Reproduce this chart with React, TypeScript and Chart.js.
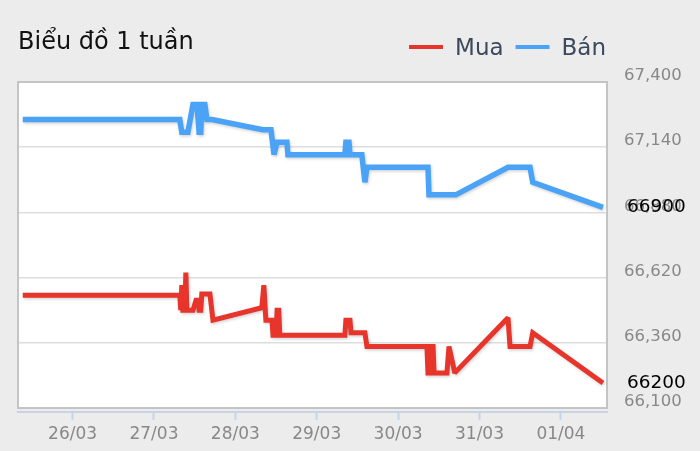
import React, { useEffect, useRef } from "react";
import { Chart, registerables } from "chart.js";

Chart.register(...registerables);

const titleText = "Biểu đồ 1 tuần";
const seriesNames = ["Mua", "Bán"];
const seriesColors = ["#e8352b", "#4ba3f7"];

// time axis: hours counted from 25/03 00:00
const buyHours = [9.3, 55.6, 55.9, 56.2, 56.5, 57.1, 57.4, 57.7, 59.5, 60.4, 61.0, 61.3, 61.8, 62.1, 64.5, 65.4, 79.8, 80.4, 81.0, 82.8, 83.1, 84.0, 84.3, 84.8, 85.1, 104.3, 104.6, 105.8, 106.1, 110.2, 110.8, 128.5, 128.8, 129.4, 129.7, 130.3, 130.6, 134.4, 135.0, 136.7, 152.4, 153.0, 158.9, 159.7, 180.4];
const buyValues = [66550, 66550, 66490, 66590, 66490, 66490, 66640, 66490, 66490, 66530, 66530, 66490, 66490, 66555, 66555, 66450, 66500, 66590, 66450, 66450, 66390, 66390, 66490, 66490, 66390, 66390, 66450, 66450, 66400, 66400, 66345, 66345, 66240, 66240, 66345, 66345, 66240, 66240, 66345, 66240, 66460, 66345, 66345, 66400, 66200];

const sellHours = [9.3, 55.6, 56.2, 58.0, 59.5, 60.7, 61.3, 61.8, 62.1, 63.0, 63.6, 65.1, 80.1, 82.5, 83.4, 84.3, 87.2, 87.5, 104.3, 104.6, 105.5, 105.8, 109.3, 110.2, 110.8, 128.8, 129.1, 137.0, 152.4, 158.9, 159.7, 180.4];
const sellValues = [67250, 67250, 67200, 67200, 67310, 67310, 67200, 67200, 67310, 67310, 67250, 67250, 67210, 67210, 67110, 67160, 67160, 67110, 67110, 67160, 67160, 67110, 67110, 67000, 67060, 67060, 66950, 66950, 67060, 67060, 67000, 66900];

const dayTickHours = [24, 48, 72, 96, 120, 144, 168];
const dayTickLabels = ["26/03", "27/03", "28/03", "29/03", "30/03", "31/03", "01/04"];
const priceTicks = [66100, 66360, 66620, 66880, 67140, 67400];

const xMin = 7.9;
const xMax = 181.6;
const yMin = 66084;
const yMax = 67400;

const FONT = "'DejaVu Sans', 'Lucida Grande', sans-serif";

const decorPlugin = {
  id: "decor",
  beforeDraw(chart: any) {
    const { ctx, chartArea: a, scales } = chart;
    const bottom = scales.y.getPixelForValue(priceTicks[0]);
    ctx.save();
    ctx.fillStyle = "#ffffff";
    ctx.fillRect(a.left, a.top, a.right - a.left, bottom - a.top);
    ctx.restore();
  },
  beforeDatasetsDraw(chart: any) {
    const { ctx, chartArea: a, scales } = chart;
    const bottom = scales.y.getPixelForValue(priceTicks[0]);
    ctx.save();
    ctx.strokeStyle = "#c4c4c4";
    ctx.lineWidth = 2;
    ctx.strokeRect(a.left, a.top, a.right - a.left, bottom - a.top);
    ctx.restore();
  },
  beforeDatasetDraw(chart: any) {
    const ctx = chart.ctx;
    ctx.save();
    ctx.miterLimit = 2;
    ctx.shadowColor = "rgba(0,0,0,0.18)";
    ctx.shadowBlur = 3;
    ctx.shadowOffsetX = 1;
    ctx.shadowOffsetY = 1.5;
  },
  afterDatasetDraw(chart: any) {
    chart.ctx.restore();
  },
  afterDatasetsDraw(chart: any) {
    const { ctx, chartArea: a } = chart;
    ctx.save();
    ctx.font = `18.5px ${FONT}`;
    ctx.fillStyle = "#000000";
    ctx.textAlign = "left";
    ctx.textBaseline = "middle";
    chart.data.datasets.forEach((ds: any, i: number) => {
      const meta = chart.getDatasetMeta(i);
      const last = meta.data[meta.data.length - 1];
      const v = ds.data[ds.data.length - 1].y;
      ctx.fillText(String(v), a.right + 20, last.y);
    });
    ctx.restore();
  },
  afterDraw(chart: any) {
    const { ctx } = chart;
    ctx.save();
    // title
    ctx.font = `24px ${FONT}`;
    ctx.fillStyle = "#111111";
    ctx.textAlign = "left";
    ctx.textBaseline = "alphabetic";
    ctx.fillText(titleText, 18, 49);
    // legend
    ctx.font = `23px ${FONT}`;
    const lineLen = 34;
    const gapLine = 12;
    const gapItem = 12;
    const items = chart.data.datasets.map((ds: any) => ({
      label: ds.label,
      color: ds.borderColor,
      w: ctx.measureText(ds.label).width,
    }));
    let total = 0;
    items.forEach((it: any, i: number) => {
      total += lineLen + gapLine + it.w + (i < items.length - 1 ? gapItem : 0);
    });
    let x = 606 - total;
    const ly = 47;
    items.forEach((it: any) => {
      ctx.strokeStyle = it.color;
      ctx.lineWidth = 4;
      ctx.beginPath();
      ctx.moveTo(x, ly);
      ctx.lineTo(x + lineLen, ly);
      ctx.stroke();
      x += lineLen + gapLine;
      ctx.fillStyle = "#3a4a5c";
      ctx.textBaseline = "alphabetic";
      ctx.fillText(it.label, x, 55);
      x += it.w + gapItem;
    });
    ctx.restore();
  },
};

export default function App() {
  const ref = useRef<HTMLCanvasElement | null>(null);

  useEffect(() => {
    if (!ref.current) return;
    const chart = new Chart(ref.current, {
      type: "line",
      data: {
        datasets: [
          {
            label: seriesNames[0],
            data: buyHours.map((h, i) => ({ x: h, y: buyValues[i] })),
            borderColor: seriesColors[0],
            backgroundColor: seriesColors[0],
            borderWidth: 5,
            pointRadius: 0,
            tension: 0,
            borderJoinStyle: "miter",
            fill: false,
          },
          {
            label: seriesNames[1],
            data: sellHours.map((h, i) => ({ x: h, y: sellValues[i] })),
            borderColor: seriesColors[1],
            backgroundColor: seriesColors[1],
            borderWidth: 5.5,
            pointRadius: 0,
            tension: 0,
            borderJoinStyle: "miter",
            fill: false,
          },
        ],
      },
      options: {
        animation: false,
        responsive: false,
        maintainAspectRatio: false,
        layout: { padding: { top: 82, left: 18, right: 0, bottom: 0 } },
        plugins: {
          legend: { display: false },
          tooltip: { enabled: false },
          title: { display: false },
        },
        scales: {
          x: {
            type: "linear",
            position: "bottom",
            min: xMin,
            max: xMax,
            afterBuildTicks: (scale: any) => {
              scale.ticks = dayTickHours.map((v) => ({ value: v }));
            },
            afterFit: (scale: any) => {
              scale.height = 39;
            },
            grid: {
              display: true,
              drawOnChartArea: false,
              drawTicks: true,
              tickLength: 8,
              tickColor: "#c6d4e4",
              tickWidth: 2,
            },
            border: { display: true, color: "#c6d4e4", width: 2 },
            ticks: {
              autoSkip: false,
              maxRotation: 0,
              padding: 4,
              color: "#888888",
              font: { family: FONT, size: 17 },
              callback: (value: any) => {
                const idx = dayTickHours.indexOf(Number(value));
                return idx >= 0 ? dayTickLabels[idx] : "";
              },
            },
          },
          y: {
            type: "linear",
            position: "right",
            min: yMin,
            max: yMax,
            afterBuildTicks: (scale: any) => {
              scale.ticks = priceTicks.map((v) => ({ value: v }));
            },
            afterFit: (scale: any) => {
              scale.width = 93;
            },
            grid: {
              color: "#dddddd",
              lineWidth: 1.5,
              drawTicks: false,
            },
            border: { display: false },
            ticks: {
              crossAlign: "near",
              padding: 17,
              labelOffset: -6,
              color: "#888888",
              font: { family: FONT, size: 16.5 },
              callback: (value: any) => Number(value).toLocaleString("en-US"),
            },
          },
        },
      },
      plugins: [decorPlugin],
    } as any);
    return () => chart.destroy();
  }, []);

  return (
    <div
      style={{
        position: "fixed",
        left: 0,
        top: 0,
        width: 700,
        height: 451,
        background: "#ececec",
        overflow: "hidden",
      }}
    >
      <canvas ref={ref} width={700} height={451} style={{ width: 700, height: 451, display: "block" }} />
    </div>
  );
}
